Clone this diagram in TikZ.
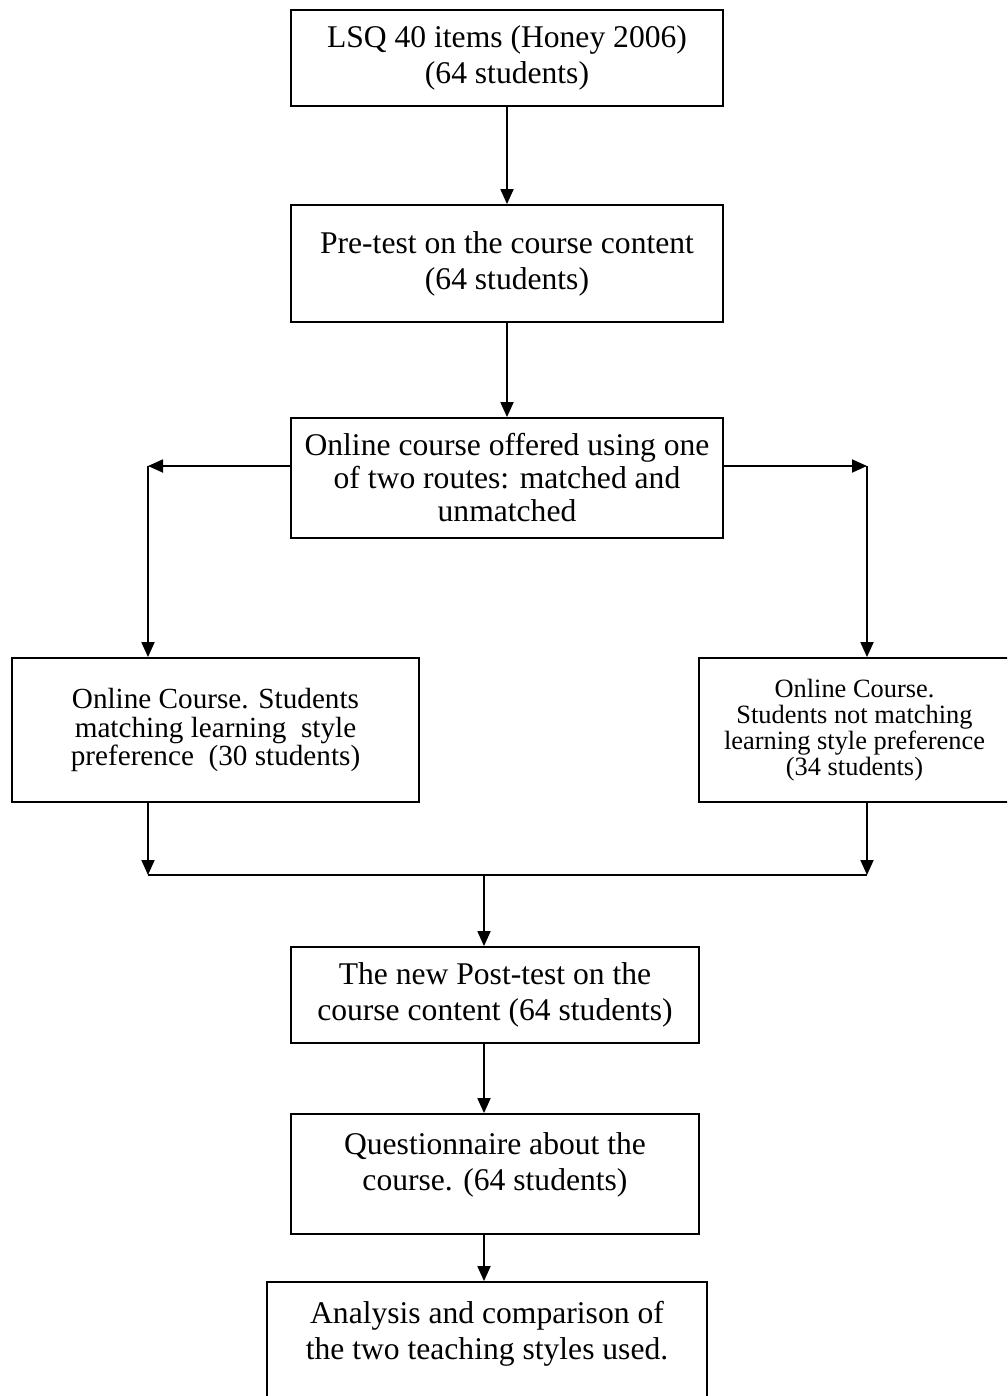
\documentclass[tikz,border=0pt]{standalone}
\usepackage{fontspec}
\setmainfont{Liberation Serif}
\usetikzlibrary{arrows.meta}

\tikzset{every picture/.style={line width=0.9pt}}
\tikzset{
  stage/.style={draw, align=center, inner sep=0pt, font=\fontsize{15.8}{18}\selectfont},
  arr/.style={-{Triangle[length=7.5pt,width=6.5pt]}},
  topish/.style={text depth=12pt}
}

\begin{document}
\begin{tikzpicture}[x=0.5pt,y=0.5pt,yscale=-1,xscale=1]
%set diagram left start at 0, and has height of 1396
\path[use as bounding box, clip] (0,0) rectangle (1007,1396);

%Shape: Rectangle [lsq]
\node (lsq) [stage, minimum width=216pt, minimum height=48pt] at (507,58) {LSQ 40 items (Honey 2006)\\(64 students)};
%Shape: Rectangle [pre]
\node (pre) [stage, minimum width=216pt, minimum height=58.5pt] at (507,263.5) {Pre-test on the course content\\(64 students)};
%Shape: Rectangle [offer]
\node (offer) [stage, minimum width=216pt, minimum height=60pt, font=\fontsize{15.8}{16.5}\selectfont] at (507,478) {Online course offered using one\\of two routes: matched and\\unmatched};
%Shape: Rectangle [match]
\node (match) [stage, minimum width=203.5pt, minimum height=72pt, font=\fontsize{14.6}{14.2}\selectfont] at (215.5,730) {Online Course. Students\\matching learning~ style\\preference~ (30 students)};
%Shape: Rectangle [nomatch]
\node (nomatch) [stage, minimum width=155.5pt, minimum height=72pt, font=\fontsize{13.2}{13}\selectfont] at (854.5,730) {Online Course.\\Students not matching\\learning style preference\\(34 students)};
%Shape: Rectangle [post]
\node (post) [stage, minimum width=204pt, minimum height=48pt] at (495,995) {The new Post-test on the\\course content (64 students)};
%Shape: Rectangle [quest]
\node (quest) [stage, topish, minimum width=204pt, minimum height=60pt] at (495,1174) {Questionnaire about the\\course. (64 students)};
%Shape: Rectangle [analysis]
\node (analysis) [stage, topish, minimum width=220pt, minimum height=60pt] at (487,1342) {Analysis and comparison of\\the two teaching styles used.};

% Corner points
\coordinate (lcorner) at (148,466);
\coordinate (rcorner) at (867,466);
\coordinate (ljoin) at (148,875);
\coordinate (rjoin) at (867,875);
\coordinate (mjoin) at (484,875);

%Straight Lines
\draw [arr] (lsq) -- (pre);
\draw [arr] (pre) -- (offer);
\draw [arr] (offer.west |- lcorner) -- (lcorner);
\draw [arr] (lcorner) -- (lcorner |- match.north);
\draw [arr] (offer.east |- rcorner) -- (rcorner);
\draw [arr] (rcorner) -- (rcorner |- nomatch.north);
\draw [arr] (ljoin |- match.south) -- (ljoin);
\draw [arr] (rjoin |- nomatch.south) -- (rjoin);
\draw (ljoin) -- (rjoin);
\draw [arr] (mjoin) -- (mjoin |- post.north);
\draw [arr] (mjoin |- post.south) -- (mjoin |- quest.north);
\draw [arr] (mjoin |- quest.south) -- (mjoin |- analysis.north);

\end{tikzpicture}
\end{document}
